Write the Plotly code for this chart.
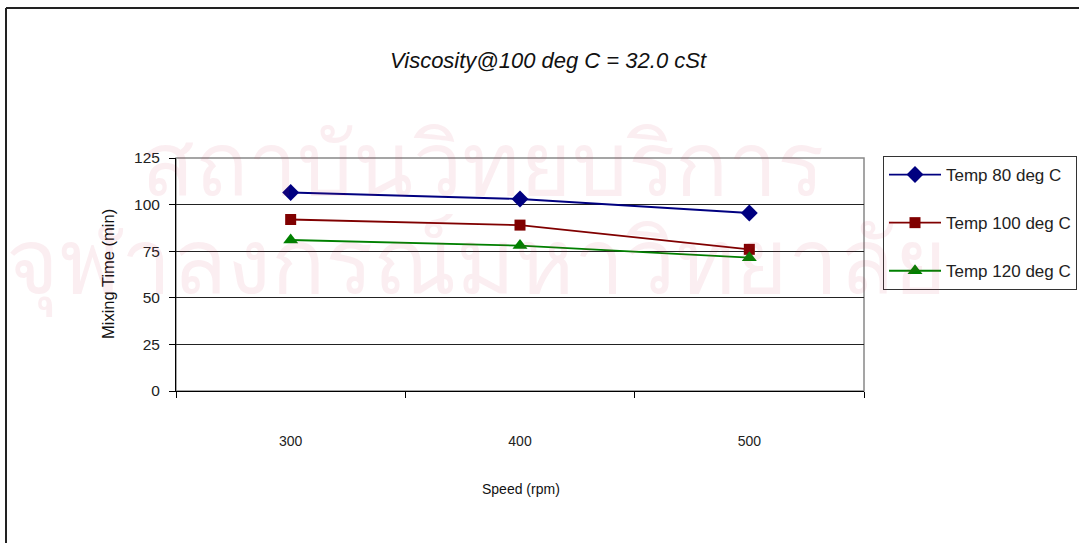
import plotly.graph_objects as go

speeds = [300, 400, 500]
temp80 = [106.5, 103, 95.5]
temp100 = [92, 89, 76]
temp120 = [81, 78, 71.5]
series_names = ["Temp 80 deg C", "Temp 100 deg C", "Temp 120 deg C"]
series_colors = ["#000080", "#800000", "#008000"]
series_symbols = ["diamond", "square", "triangle-up"]
y_ticks = [0, 25, 50, 75, 100, 125]

W, H = 1079, 543
L, R, T, B = 176, 864, 158, 391

def px(x):
    return (x - L) / (R - L)

def py(y):
    return (B - y) / (B - T)

fig = go.Figure()
for name, vals, col, sym, sz in zip(series_names, [temp80, temp100, temp120],
                                    series_colors, series_symbols, [13, 11, 13]):
    fig.add_trace(go.Scatter(
        x=speeds, y=vals, name=name, legendgroup=name, mode="lines+markers",
        line=dict(color=col, width=1.8),
        marker=dict(symbol=sym, size=sz, color=col),
    ))

FONT = "Liberation Sans, Arial, sans-serif"

fig.update_layout(
    width=W, height=H,
    margin=dict(l=L, r=W - R, t=T, b=H - B, autoexpand=False),
    paper_bgcolor="white", plot_bgcolor="white",
    font=dict(family=FONT, size=15, color="#222"),
    title=dict(text="<i>Viscosity@100 deg C = 32.0 cSt</i>",
               x=548 / W, xanchor="center", y=1 - 60 / H, yanchor="middle",
               font=dict(size=22, color="#111")),
    showlegend=True,
    legend=dict(x=px(883), y=py(156), xanchor="left", yanchor="top",
                bordercolor="#333", borderwidth=1, bgcolor="white",
                font=dict(size=17, color="#222"), tracegroupgap=23,
                itemwidth=52, entrywidth=185, entrywidthmode="pixels"),
    xaxis=dict(range=[250, 550], tickmode="array", tickvals=speeds,
               ticktext=[str(s) for s in speeds], ticks="", showgrid=False,
               zeroline=False, showline=True, linecolor="black", linewidth=1,
               ticklabelstandoff=37,
               tickfont=dict(size=14, color="#222"),
               minor=dict(tickmode="linear", tick0=250, dtick=100,
                          ticks="outside", ticklen=6, tickcolor="black",
                          showgrid=False)),
    yaxis=dict(range=[0, 125], tickmode="array", tickvals=y_ticks,
               ticks="outside", ticklen=6, tickcolor="black",
               showgrid=True, gridcolor="#222", gridwidth=1,
               zeroline=False, showline=True, linecolor="black", linewidth=1,
               ticklabelstandoff=6, tickfont=dict(size=15.5, color="#222")),
)

# plot-area border (gray)
fig.add_shape(type="rect", xref="paper", yref="paper", x0=0, x1=1, y0=0, y1=1,
              line=dict(color="#888", width=1.5), layer="below")
# chart outer border: left and top edges only (right/bottom are off-page)
fig.add_shape(type="line", xref="paper", yref="paper",
              x0=px(6), x1=px(6), y0=py(543), y1=py(8),
              line=dict(color="#222", width=2), layer="below")
fig.add_shape(type="line", xref="paper", yref="paper",
              x0=px(6), x1=px(1079), y0=py(8), y1=py(8),
              line=dict(color="#222", width=2), layer="below")

# axis titles
fig.add_annotation(text="Mixing Time (min)", xref="paper", yref="paper",
                   x=px(97), y=py(274), textangle=-90, showarrow=False,
                   font=dict(size=16.5, color="#111"))
fig.add_annotation(text="Speed (rpm)", xref="paper", yref="paper",
                   x=px(521), y=py(499), showarrow=False,
                   font=dict(size=14, color="#111"))

# faint watermark
fig.add_annotation(text="สถาบันวิทยบริการ", xref="paper", yref="paper",
                   x=px(482), y=py(113), showarrow=False,
                   font=dict(size=88, color="rgba(200,40,80,0.08)"))
fig.add_annotation(text="จุฬาลงกรณ์มหาวิทยาลัย", xref="paper", yref="paper",
                   x=px(476), y=py(264), showarrow=False,
                   font=dict(size=90, color="rgba(200,40,80,0.08)"))

fig.write_html("out.html")
